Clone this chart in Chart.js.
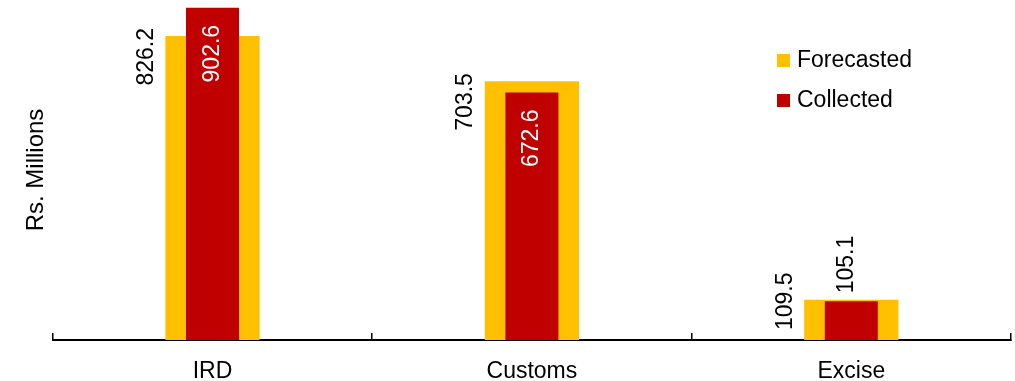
<!DOCTYPE html>
<html>
<head>
<meta charset="utf-8">
<script src="https://cdn.jsdelivr.net/npm/chart.js@4/dist/chart.umd.min.js"></script>
<style>
  html, body { margin: 0; padding: 0; background: #fff; }
  #wrap { width: 1015px; height: 381px; }
</style>
</head>
<body>
<div id="wrap"><canvas id="barChart" width="1015" height="381"></canvas></div>
<script>
const categories = ['IRD', 'Customs', 'Excise']
const forecasted = [826.2, 703.5, 109.5]
const collected = [902.6, 672.6, 105.1]
const seriesNames = ['Forecasted', 'Collected']
const seriesColors = ['#FFC000', '#C00000']

const FONT = '"Liberation Sans", Arial, sans-serif'

// value labels, rotated like the original
const valueLabels = {
    id: 'valueLabels',
    afterDatasetsDraw(chart) {
        const ctx = chart.ctx
        ctx.save()
        ctx.font = '23px ' + FONT
        ctx.textAlign = 'center'
        ctx.textBaseline = 'middle'
        chart.data.datasets.forEach((ds, di) => {
            const meta = chart.getDatasetMeta(di)
            meta.data.forEach((bar, i) => {
                const text = ds.data[i].toFixed(1)
                const len = ctx.measureText(text).width
                let cx, cy, color
                if (di === 0) {
                    cx = bar.x - bar.width / 2 - 19
                    cy = Math.min(bar.y - 8 + len / 2, bar.base - 10 - len / 2)
                    color = '#000'
                } else if (bar.base - bar.y > len + 30) {
                    cx = bar.x
                    cy = bar.y + 17 + len / 2
                    color = '#fff'
                } else {
                    cx = bar.x - 5
                    cy = bar.y - 8 - len / 2
                    color = '#000'
                }
                ctx.save()
                ctx.translate(cx, cy)
                ctx.rotate(-Math.PI / 2)
                ctx.fillStyle = color
                ctx.fillText(text, 0, 0)
                ctx.restore()
            })
        })
        ctx.restore()
    }
}

// legend at the upper right
const sideLegend = {
    id: 'sideLegend',
    afterDraw(chart) {
        const ctx = chart.ctx
        ctx.save()
        ctx.font = '23px ' + FONT
        ctx.textBaseline = 'middle'
        seriesNames.forEach((name, i) => {
            const y = 60 + i * 40
            ctx.fillStyle = seriesColors[i]
            ctx.fillRect(777, y - 6, 13, 13)
            ctx.fillStyle = '#000'
            ctx.fillText(name, 797, y + 1)
        })
        ctx.restore()
    }
}

const barChart = new Chart(
    document.getElementById('barChart').getContext('2d'), {
    type: 'bar',
    data: {
        labels: categories,
        datasets: [{
            label: seriesNames[0],
            data: forecasted,
            backgroundColor: seriesColors[0],
            categoryPercentage: 1,
            barPercentage: 0.295,
            grouped: false,
            order: 1
        }, {
            label: seriesNames[1],
            data: collected,
            backgroundColor: seriesColors[1],
            categoryPercentage: 1,
            barPercentage: 0.166,
            grouped: false,
            order: 0
        }]
    },
    options: {
        responsive: false,
        animation: false,
        layout: { padding: { left: 18, right: 4, top: 0, bottom: 0 } },
        plugins: {
            legend: { display: false },
            tooltip: { enabled: false }
        },
        scales: {
            x: {
                afterFit: (scale) => { scale.height = 41 },
                grid: {
                    display: true,
                    offset: true,
                    drawOnChartArea: false,
                    drawTicks: true,
                    tickLength: -7,
                    color: '#000',
                    lineWidth: 1.5
                },
                border: { display: true, color: '#000', width: 2 },
                ticks: {
                    color: '#000',
                    padding: 25,
                    font: { family: FONT, size: 23 }
                }
            },
            y: {
                min: 0,
                max: 924,
                grid: { display: false, drawTicks: false },
                border: { display: false },
                ticks: { display: false },
                title: {
                    display: true,
                    text: 'Rs. Millions',
                    color: '#000',
                    font: { family: FONT, size: 24 },
                    padding: { top: 4, bottom: 2 }
                }
            }
        }
    },
    plugins: [valueLabels, sideLegend]
}
);
</script>
</body>
</html>
